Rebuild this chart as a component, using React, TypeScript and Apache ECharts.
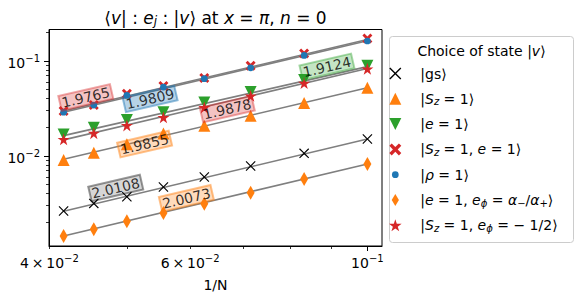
import React, { useEffect, useRef } from 'react';
import * as echarts from 'echarts';

// ---------- data ----------
const sizesN = [24, 22, 20, 18, 16, 14, 12, 10];

const gsVals = [0.00262, 0.00315, 0.0037, 0.00469, 0.00597, 0.0078, 0.0106, 0.0150];
const sz1Vals = [0.00901, 0.01076, 0.0132, 0.0172, 0.0207, 0.0264, 0.0359, 0.052];
const e1Vals = [0.0168, 0.0197, 0.0238, 0.0288, 0.0365, 0.0469, 0.0627, 0.0886];
const sz1e1Vals = [0.0296, 0.0342, 0.0450, 0.0545, 0.0662, 0.0886, 0.1196, 0.172];
const rho1Vals = [0.0288, 0.0342, 0.0432, 0.0530, 0.0650, 0.0844, 0.114, 0.162];
const ephiVals = [0.00143, 0.00168, 0.00204, 0.00249, 0.00313, 0.00408, 0.00569, 0.00818];
const sz1ephiVals = [0.0149, 0.0173, 0.0209, 0.0254, 0.0323, 0.0428, 0.0583, 0.0824];

// fitted power-law lines: values at N=24 and N=10
const fitGs = [0.0026, 0.0150];
const fitSz1 = [0.0092, 0.052];
const fitE1 = [0.0163, 0.087];
const fitSz1e1 = [0.0296, 0.168];
const fitRho1 = [0.0288, 0.163];
const fitEphi = [0.00143, 0.0082];
const fitSz1ephi = [0.0147, 0.083];

// fitted exponents shown on the lines
const slopeLabels = ['2.0108', '1.9855', '1.9124', '1.9765', '1.9809', '2.0073', '1.9878'];
// label anchor points (data coords)
const labelAnchors = [
  [0.04842, 0.00457],
  [0.05262, 0.01328],
  [0.0890, 0.0865],
  [0.04442, 0.0412],
  [0.05346, 0.0398],
  [0.05935, 0.00356],
  [0.06678, 0.0310],
];

const xLabelTicks = [0.04, 0.06, 0.1];
const xMajorTicks = [0.1];
const xMinorTicks = [0.04, 0.05, 0.06, 0.07, 0.08, 0.09];
const yMajorTicks = [0.01, 0.1];
const yMinorTicks = [0.002, 0.003, 0.004, 0.005, 0.006, 0.007, 0.008, 0.009,
  0.02, 0.03, 0.04, 0.05, 0.06, 0.07, 0.08, 0.09, 0.2];

// ---------- styles ----------
const FONT = 'DejaVu Sans';
const seriesNames = ['gs', 'sz1', 'e1', 'sz1e1', 'rho1', 'ephi', 'sz1ephi'];
const seriesVals = [gsVals, sz1Vals, e1Vals, sz1e1Vals, rho1Vals, ephiVals, sz1ephiVals];
const fitVals = [fitGs, fitSz1, fitE1, fitSz1e1, fitRho1, fitEphi, fitSz1ephi];
const colors = ['#000000', '#ff7f0e', '#2ca02c', '#d62728', '#1f77b4', '#ff7f0e', '#d62728'];
const labelBg = ['rgba(0,0,0,0.2)', 'rgba(255,127,14,0.35)', 'rgba(44,160,44,0.35)',
  'rgba(214,39,40,0.35)', 'rgba(31,119,180,0.4)', 'rgba(255,127,14,0.35)', 'rgba(214,39,40,0.35)'];
const labelBorder = ['rgba(0,0,0,0.5)', 'rgba(255,127,14,0.6)', 'rgba(44,160,44,0.5)',
  'rgba(214,39,40,0.5)', 'rgba(31,119,180,0.6)', 'rgba(255,127,14,0.6)', 'rgba(214,39,40,0.5)'];
const LABEL_ROTATE = 13;

const SYM_XTHIN = 'path://M0,0.8 L0.8,0 L5,4.2 L9.2,0 L10,0.8 L5.8,5 L10,9.2 L9.2,10 L5,5.8 L0.8,10 L0,9.2 L4.2,5 Z';
const SYM_XTHICK = 'path://M0,2 L2,0 L5,3 L8,0 L10,2 L7,5 L10,8 L8,10 L5,7 L2,10 L0,8 L3,5 Z';
const SYM_TRI_UP = 'path://M5,0 L10,10 L0,10 Z';
const SYM_TRI_DN = 'path://M0,0 L10,0 L5,10 Z';
const SYM_DOT = 'path://M0,0 M10,10 M7.8,5 A2.8,2.8 0 1 1 2.2,5 A2.8,2.8 0 1 1 7.8,5 Z';
const SYM_DIAMOND = 'path://M3,0 L6,5 L3,10 L0,5 Z';
const SYM_STAR = 'path://M5,0 L6.12,3.45 L9.76,3.45 L6.82,5.59 L7.94,9.05 L5,6.91 L2.06,9.05 L3.18,5.59 L0.24,3.45 L3.88,3.45 Z';
const symbols = [SYM_XTHIN, SYM_TRI_UP, SYM_TRI_DN, SYM_XTHICK, SYM_DOT, SYM_DIAMOND, SYM_STAR];
const symbolSizes: any[] = [10, 12, 12, 10, 12, [8, 14], 12];

const legendText: Record<string, string> = {
  gs: '{n||gs⟩}',
  sz1: '{n||}{i|S}{isub|z}{n| = 1⟩}',
  e1: '{n||}{i|e}{n| = 1⟩}',
  sz1e1: '{n||}{i|S}{isub|z}{n| = 1, }{i|e}{n| = 1⟩}',
  rho1: '{n||}{i|ρ}{n| = 1⟩}',
  ephi: '{n||}{i|e}{n| = 1, }{i|e}{isub|ϕ}{n| = }{i|α}{sub|−}{n|/}{i|α}{sub|+}{n|⟩}',
  sz1ephi: '{n||}{i|S}{isub|z}{n| = 1, }{i|e}{isub|ϕ}{n| = − 1/2⟩}',
};

const legendRich = {
  n: { fontFamily: FONT, fontSize: 14, lineHeight: 18, color: '#000' },
  i: { fontFamily: FONT, fontSize: 14, lineHeight: 18, fontStyle: 'italic', color: '#000' },
  sub: { fontFamily: FONT, fontSize: 10, lineHeight: 18, padding: [6, 0, 0, 0], color: '#000' },
  isub: { fontFamily: FONT, fontSize: 10, lineHeight: 18, padding: [6, 0, 0, 0], fontStyle: 'italic', color: '#000' },
};

const xRich = {
  n: { fontFamily: FONT, fontSize: 14, lineHeight: 20, color: '#000' },
  sup: { fontFamily: FONT, fontSize: 10, lineHeight: 20, padding: [0, 0, 10, 0], color: '#000' },
};
const yRich = {
  n: { fontFamily: FONT, fontSize: 14, lineHeight: 20, color: '#000', padding: [5, 0, 0, 0] },
  sup: { fontFamily: FONT, fontSize: 10, lineHeight: 20, padding: [0, 0, 4, 0], color: '#000' },
};

const xFmt = (v: number) => {
  const k = Math.round(v * 100);
  if (k === 4) return '{n|4\u2009×\u200910}{sup|−2}';
  if (k === 6) return '{n|6\u2009×\u200910}{sup|−2}';
  if (k === 10) return '{n|10}{sup|−1}';
  return '';
};
const yFmt = (v: number) => {
  const e = Math.round(Math.log10(v));
  return '{n|10}{sup|−' + String(-e) + '}';
};

const X_MIN = 0.03995;
const X_MAX = 0.1043;
const Y_MIN = 0.00112;
const Y_MAX = 0.2141;

function buildOption() {
  const xs = sizesN.map((n) => 1 / n);
  const fitX = [1 / sizesN[0], 1 / sizesN[sizesN.length - 1]];
  const series: any[] = [];
  seriesNames.forEach((name, k) => {
    series.push({
      type: 'line',
      name: name + '_fit',
      data: fitX.map((x, j) => [x, fitVals[k][j]]),
      showSymbol: false,
      symbol: 'none',
      silent: true,
      lineStyle: { color: '#7f7f7f', width: 1.6 },
      z: 2,
    });
  });
  seriesNames.forEach((name, k) => {
    series.push({
      type: 'scatter',
      name,
      data: xs.map((x, j) => [x, seriesVals[k][j]]),
      symbol: symbols[k],
      symbolSize: symbolSizes[k],
      itemStyle: { color: colors[k], opacity: 1 },
      z: 3,
    });
  });
  seriesNames.forEach((name, k) => {
    series.push({
      type: 'scatter',
      name: name + '_label',
      data: [labelAnchors[k]],
      symbolSize: 1,
      itemStyle: { color: 'rgba(0,0,0,0)' },
      silent: true,
      z: 5,
      labelLayout: { rotate: LABEL_ROTATE },
      label: {
        show: true,
        position: 'inside',
        formatter: slopeLabels[k],
        fontFamily: FONT,
        fontSize: 14,
        color: '#000',
        backgroundColor: labelBg[k],
        borderColor: labelBorder[k],
        borderWidth: 1,
        padding: [1, 2, 0, 2],
      },
    });
  });

  const axisCommonX = {
    type: 'log',
    logBase: 10,
    min: X_MIN,
    max: X_MAX,
    splitLine: { show: false },
  };
  const axisCommonY = {
    type: 'log',
    logBase: 10,
    min: Y_MIN,
    max: Y_MAX,
    splitLine: { show: false },
  };

  return {
    animation: false,
    backgroundColor: '#fff',
    grid: {
      left: 49, right: 198, top: 29.5, bottom: 51,
      show: true, borderColor: '#000', borderWidth: 1, backgroundColor: 'transparent',
    },
    xAxis: [
      {
        ...axisCommonX,
        position: 'bottom',
        axisLine: { show: true, lineStyle: { color: '#000', width: 1 } },
        axisTick: { show: true, customValues: xMajorTicks, length: 5, lineStyle: { color: '#000', width: 1 } },
        axisLabel: { show: true, customValues: xLabelTicks, formatter: xFmt, rich: xRich, margin: 7 },
        name: '1/N',
        nameLocation: 'middle',
        nameGap: 30,
        nameTextStyle: { fontFamily: FONT, fontSize: 14, color: '#000' },
      },
      {
        ...axisCommonX,
        position: 'bottom',
        axisLine: { show: false },
        axisTick: { show: true, customValues: xMinorTicks, length: 3, lineStyle: { color: '#000', width: 0.8 } },
        axisLabel: { show: false },
      },
    ],
    yAxis: [
      {
        ...axisCommonY,
        position: 'left',
        axisLine: { show: true, lineStyle: { color: '#000', width: 1 } },
        axisTick: { show: true, customValues: yMajorTicks, length: 5, lineStyle: { color: '#000', width: 1 } },
        axisLabel: { show: true, customValues: yMajorTicks, formatter: yFmt, rich: yRich, margin: 9 },
      },
      {
        ...axisCommonY,
        position: 'left',
        axisLine: { show: false },
        axisTick: { show: true, customValues: yMinorTicks, length: 3, lineStyle: { color: '#000', width: 0.8 } },
        axisLabel: { show: false },
      },
    ],
    legend: {
      data: seriesNames,
      orient: 'vertical',
      left: 389,
      top: 64.5,
      itemWidth: 40,
      itemHeight: 12,
      itemGap: 7.3,
      padding: 0,
      selectedMode: false,
      formatter: (name: string) => legendText[name],
      textStyle: { fontFamily: FONT, fontSize: 14, color: '#000', lineHeight: 18, rich: legendRich },
      z: 10,
    },
    graphic: [
      {
        type: 'rect',
        z: 1,
        shape: { x: 389.5, y: 36.5, width: 184, height: 206, r: 3 },
        style: { fill: '#fff', stroke: '#cccccc', lineWidth: 1 },
      },
      {
        type: 'text',
        z: 11,
        x: 481.5,
        y: 50.7,
        style: {
          text: '{n|Choice of state |}{i|v}{n|⟩}',
          align: 'center',
          verticalAlign: 'middle',
          textAlign: 'center',
          textVerticalAlign: 'middle',
          fill: '#000',
          fontFamily: FONT,
          fontSize: 14,
          rich: {
            n: { fontFamily: FONT, fontSize: 14, fill: '#000', lineHeight: 18 },
            i: { fontFamily: FONT, fontSize: 14, fill: '#000', fontStyle: 'italic', lineHeight: 18 },
          },
        },
      },
      {
        type: 'text',
        z: 11,
        x: 215.5,
        y: 17.5,
        style: {
          text: '{n|⟨}{i|v}{n|| : }{i|e}{isub|j}{n| : |}{i|v}{n|⟩ at }{i|x}{n| = }{i|π}{n|, }{i|n}{n| = 0}',
          align: 'center',
          verticalAlign: 'middle',
          textAlign: 'center',
          textVerticalAlign: 'middle',
          fill: '#000',
          fontFamily: FONT,
          fontSize: 17,
          rich: {
            n: { fontFamily: FONT, fontSize: 17, fill: '#000', lineHeight: 22 },
            i: { fontFamily: FONT, fontSize: 17, fill: '#000', fontStyle: 'italic', lineHeight: 22 },
            isub: { fontFamily: FONT, fontSize: 12, fill: '#000', fontStyle: 'italic', lineHeight: 22, padding: [7, 0, 0, 0] },
          },
        },
      },
    ],
    series,
  };
}

export default function App() {
  const ref = useRef<HTMLDivElement>(null);
  useEffect(() => {
    if (!ref.current) return;
    const chart = echarts.init(ref.current, null, { renderer: 'svg' });
    chart.setOption(buildOption() as any);
    return () => chart.dispose();
  }, []);
  return (
    <div
      ref={ref}
      style={{ position: 'fixed', left: 0, top: 0, width: 580, height: 297, background: '#fff' }}
    />
  );
}
